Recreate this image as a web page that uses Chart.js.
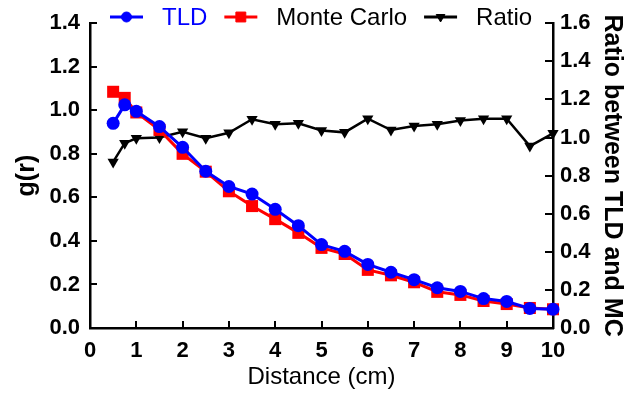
<!DOCTYPE html>
<html lang="en">
<head>
  <meta charset="UTF-8">
  <title>g(r) vs distance</title>
  <style>
    html, body { margin: 0; padding: 0; background: #ffffff; }
    .chart-container { width: 627px; height: 395px; position: relative; }
  </style>
</head>
<body>
  <div class="chart-container">
    <canvas id="grChart"></canvas>
  </div>

  <script src="https://cdn.jsdelivr.net/npm/chart.js"></script>
  <script>
    // distances (cm) and values
    const distance = [0.5, 0.75, 1, 1.5, 2, 2.5, 3, 3.5, 4, 4.5, 5, 5.5, 6, 6.5, 7, 7.5, 8, 8.5, 9, 9.5, 10];
    const tld = [0.94, 1.025, 0.995, 0.925, 0.83, 0.72, 0.65, 0.615, 0.545, 0.47, 0.383, 0.352, 0.292, 0.256, 0.222, 0.185, 0.168, 0.135, 0.122, 0.09, 0.086];
    const monteCarlo = [1.085, 1.057, 0.99, 0.91, 0.80, 0.718, 0.628, 0.56, 0.50, 0.437, 0.368, 0.34, 0.267, 0.242, 0.21, 0.166, 0.152, 0.124, 0.11, 0.092, 0.086];
    const ratio = [0.872, 0.97, 0.996, 1.0, 1.03, 0.996, 1.025, 1.096, 1.07, 1.075, 1.037, 1.027, 1.099, 1.039, 1.06, 1.07, 1.089, 1.099, 1.099, 0.955, 1.022];

    const xTicks = [0, 1, 2, 3, 4, 5, 6, 7, 8, 9, 10];
    const leftTicks = [0, 0.2, 0.4, 0.6, 0.8, 1.0, 1.2, 1.4];
    const rightTicks = [0, 0.2, 0.4, 0.6, 0.8, 1.0, 1.2, 1.4, 1.6];

    const FONT = '"Liberation Sans", Arial, Helvetica, sans-serif';

    const toPoints = ys => distance.map((d, i) => ({ x: d, y: ys[i] }));

    // tick marks pointing into the plot
    const innerTicks = {
      id: 'innerTicks',
      beforeDatasetsDraw(chart) {
        const { ctx, chartArea, scales } = chart;
        ctx.save();
        ctx.strokeStyle = '#000';
        ctx.lineWidth = 2;
        ctx.beginPath();
        xTicks.forEach(v => {
          const px = Math.round(scales.x.getPixelForValue(v));
          ctx.moveTo(px, chartArea.bottom);
          ctx.lineTo(px, chartArea.bottom - 7);
        });
        leftTicks.forEach(v => {
          const py = Math.round(scales.y.getPixelForValue(v));
          ctx.moveTo(chartArea.left, py);
          ctx.lineTo(chartArea.left + 7, py);
        });
        rightTicks.forEach(v => {
          const py = Math.round(scales.y1.getPixelForValue(v));
          ctx.moveTo(chartArea.right, py);
          ctx.lineTo(chartArea.right - 8, py);
        });
        ctx.stroke();
        ctx.restore();
      }
    };

    // legend row drawn across the top edge, over the plot
    const topLegend = {
      id: 'topLegend',
      afterDraw(chart) {
        const ctx = chart.ctx;
        let x = 110;
        const y = 17;
        ctx.save();
        ctx.font = '24px ' + FONT;
        ctx.textBaseline = 'middle';
        chart.data.datasets.forEach(ds => {
          ctx.strokeStyle = ds.borderColor;
          ctx.fillStyle = ds.borderColor;
          ctx.lineWidth = 3;
          ctx.beginPath();
          ctx.moveTo(x, y);
          ctx.lineTo(x + 33, y);
          ctx.stroke();
          ctx.lineWidth = 1;
          Chart.helpers.drawPoint(ctx, {
            pointStyle: ds.pointStyle,
            radius: ds.legendRadius,
            rotation: ds.pointRotation || 0,
            borderWidth: 1
          }, x + 16.5, y);
          ctx.fillStyle = ds.legendTextColor;
          ctx.fillText(ds.label, x + 52, y + 1);
          x += 52 + ctx.measureText(ds.label).width + 17;
        });
        ctx.restore();
      }
    };

    new Chart(document.getElementById('grChart').getContext('2d'), {
      type: 'line',
      data: {
        datasets: [
          {
            label: 'TLD',
            data: toPoints(tld),
            yAxisID: 'y',
            borderColor: '#0000ff',
            backgroundColor: '#0000ff',
            borderWidth: 3,
            pointStyle: 'circle',
            pointRadius: 6.5,
            legendRadius: 5,
            pointBorderWidth: 0,
            legendTextColor: '#0000ff',
            clip: false
          },
          {
            label: 'Monte Carlo',
            data: toPoints(monteCarlo),
            yAxisID: 'y',
            borderColor: '#ff0000',
            backgroundColor: '#ff0000',
            borderWidth: 3,
            pointStyle: 'rect',
            pointRadius: 8.5,
            legendRadius: 7,
            pointBorderWidth: 0,
            legendTextColor: '#000000',
            clip: false
          },
          {
            label: 'Ratio',
            data: toPoints(ratio),
            yAxisID: 'y1',
            borderColor: '#000000',
            backgroundColor: '#000000',
            borderWidth: 2.5,
            pointStyle: 'triangle',
            pointRotation: 180,
            pointRadius: 6.5,
            legendRadius: 5,
            pointBorderWidth: 0,
            legendTextColor: '#000000',
            clip: false
          }
        ]
      },
      options: {
        responsive: true,
        maintainAspectRatio: false,
        animation: false,
        layout: { padding: { top: 18 } },
        plugins: {
          legend: { display: false },
          tooltip: { enabled: false }
        },
        scales: {
          x: {
            type: 'linear',
            min: 0,
            max: 10,
            afterFit(scale) { scale.height = 67; },
            afterBuildTicks(scale) { scale.ticks = xTicks.map(v => ({ value: v })); },
            grid: { display: false, drawTicks: false },
            border: { display: true, color: '#000', width: 2.5 },
            ticks: {
              padding: 10,
              color: '#000',
              font: { family: FONT, size: 22, weight: 'bold' }
            },
            title: {
              display: true,
              text: 'Distance (cm)',
              color: '#000',
              padding: { top: 0, bottom: 3 },
              font: { family: FONT, size: 24 }
            }
          },
          y: {
            position: 'left',
            min: 0,
            max: 1.4,
            afterFit(scale) { scale.width = 90; },
            afterBuildTicks(scale) { scale.ticks = leftTicks.map(v => ({ value: v })); },
            grid: { display: false, drawTicks: false },
            border: { display: true, color: '#000', width: 2.5 },
            ticks: {
              padding: 10,
              color: '#000',
              font: { family: FONT, size: 22, weight: 'bold' },
              callback: v => v.toFixed(1)
            },
            title: {
              display: true,
              text: 'g(r)',
              color: '#000',
              padding: { top: 12, bottom: 0 },
              font: { family: FONT, size: 25, weight: 'bold' }
            }
          },
          y1: {
            position: 'right',
            min: 0,
            max: 1.6,
            afterFit(scale) { scale.width = 74; },
            afterBuildTicks(scale) { scale.ticks = rightTicks.map(v => ({ value: v })); },
            grid: { display: false, drawTicks: false },
            border: { display: true, color: '#000', width: 2.5 },
            ticks: {
              padding: 7,
              color: '#000',
              font: { family: FONT, size: 22, weight: 'bold' },
              callback: v => v.toFixed(1)
            },
            title: {
              display: true,
              text: 'Ratio between TLD and MC',
              color: '#000',
              padding: { top: 0, bottom: 0 },
              font: { family: FONT, size: 25, weight: 'bold' }
            }
          }
        }
      },
      plugins: [innerTicks, topLegend]
    });
  </script>
</body>
</html>
